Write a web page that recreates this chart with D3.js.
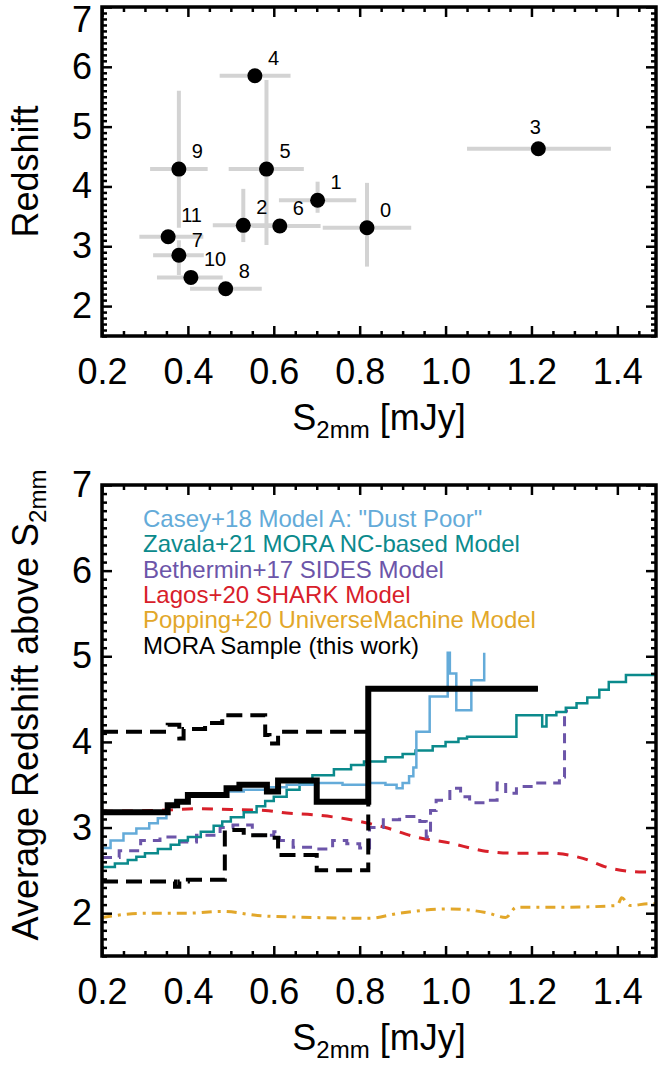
<!DOCTYPE html>
<html>
<head>
<meta charset="utf-8">
<script src="https://cdn.jsdelivr.net/npm/d3@7"></script>
<style>
  body { margin: 0; background: #fff; }
  text { font-family: "Liberation Sans", Arial, Helvetica, sans-serif; }
</style>
</head>
<body>
<div id="container"></div>
<script>
let w = 658;
let h = 1066;

// ---- top panel: MORA sources ----
let srcId   = [0, 1, 2, 3, 4, 5, 6, 7, 8, 9, 10, 11];
let srcS    = [0.817, 0.702, 0.529, 1.216, 0.556, 0.583, 0.614, 0.379, 0.488, 0.379, 0.407, 0.354];
let srcZ    = [3.31, 3.77, 3.35, 4.63, 5.85, 4.29, 3.34, 2.85, 2.29, 4.29, 2.48, 3.16];
let srcSlo  = [0.714, 0.612, 0.458, 1.05, 0.474, 0.495, 0.55, 0.319, 0.405, 0.312, 0.328, 0.287];
let srcShi  = [0.92, 0.792, 0.62, 1.385, 0.639, 0.670, 0.709, 0.437, 0.572, 0.446, 0.481, 0.436];
let srcZlo  = [2.66, 3.56, 3.07, null, null, 3.02, null, 2.52, null, 3.31, null, null];
let srcZhi  = [4.06, 4.08, 3.96, null, null, 5.78, null, 3.10, null, 5.60, null, null];

// ---- bottom panel: average redshift above S2mm ----
let caseyS = [0.2, 0.22, 0.25, 0.28, 0.31, 0.33, 0.35, 0.37, 0.40, 0.45, 0.49, 0.53, 0.58, 0.63, 0.70, 0.76, 0.82, 0.86, 0.886, 0.90, 0.915, 0.925, 0.932, 0.963, 1.005, 1.01, 1.025, 1.06, 1.09];
let caseyZ = [2.76, 2.85, 2.93, 2.99, 3.05, 3.11, 3.24, 3.30, 3.36, 3.40, 3.42, 3.44, 3.47, 3.50, 3.52, 3.50, 3.52, 3.50, 3.46, 3.52, 3.60, 3.70, 4.12, 4.53, 5.04, 4.80, 4.37, 4.72, 5.04];

let zavalaS = [0.20, 0.23, 0.26, 0.28, 0.30, 0.33, 0.36, 0.38, 0.40, 0.43, 0.46, 0.48, 0.50, 0.53, 0.56, 0.58, 0.60, 0.63, 0.66, 0.69, 0.74, 0.78, 0.81, 0.86, 0.90, 0.93, 0.97, 1.00, 1.03, 1.05, 1.165, 1.225, 1.235, 1.258, 1.28, 1.305, 1.33, 1.358, 1.38, 1.42, 1.49];
let zavalaZ = [2.54, 2.58, 2.62, 2.66, 2.70, 2.75, 2.80, 2.85, 2.89, 2.95, 3.02, 3.07, 3.12, 3.18, 3.25, 3.31, 3.36, 3.44, 3.52, 3.61, 3.68, 3.73, 3.77, 3.82, 3.86, 3.90, 3.95, 4.00, 4.04, 4.06, 4.31, 4.18, 4.31, 4.35, 4.40, 4.45, 4.52, 4.61, 4.70, 4.78, 4.78];

let bethS = [0.2, 0.24, 0.29, 0.335, 0.37, 0.42, 0.475, 0.505, 0.55, 0.60, 0.613, 0.645, 0.69, 0.737, 0.77, 0.80, 0.823, 0.855, 0.893, 0.94, 0.955, 0.965, 0.978, 1.01, 1.035, 1.056, 1.095, 1.12, 1.14, 1.165, 1.21, 1.265, 1.277, 1.285];
let bethZ = [2.65, 2.73, 2.85, 2.89, 2.83, 2.91, 3.00, 3.03, 2.91, 2.95, 2.85, 2.77, 2.75, 2.85, 2.81, 2.76, 3.00, 3.09, 3.13, 3.07, 2.89, 3.20, 3.32, 3.46, 3.36, 3.29, 3.32, 3.52, 3.40, 3.48, 3.52, 3.59, 4.36, 4.36];

let lagosS = [0.2, 0.33, 0.42, 0.50, 0.58, 0.63, 0.69, 0.77, 0.82, 0.86, 0.93, 1.01, 1.086, 1.165, 1.242, 1.32, 1.38, 1.46, 1.49];
let lagosZ = [3.19, 3.20, 3.22, 3.21, 3.20, 3.17, 3.15, 3.10, 3.05, 3.00, 2.89, 2.82, 2.73, 2.70, 2.70, 2.64, 2.53, 2.48, 2.48];

let poppingS = [0.2, 0.30, 0.40, 0.48, 0.57, 0.69, 0.82, 0.893, 1.01, 1.10, 1.14, 1.165, 1.28, 1.40, 1.41, 1.43, 1.475, 1.49];
let poppingZ = [1.95, 2.00, 2.00, 2.02, 1.97, 1.95, 1.94, 2.00, 2.05, 2.00, 1.95, 2.07, 2.07, 2.09, 2.18, 2.09, 2.11, 2.11];

let moraS = [0.2, 0.353, 0.375, 0.40, 0.49, 0.52, 0.584, 0.61, 0.70, 0.82, 1.215];
let moraZ = [3.18, 3.26, 3.30, 3.38, 3.46, 3.50, 3.42, 3.55, 3.30, 4.62, 4.62];
let moraUpS = [0.2, 0.353, 0.38, 0.39, 0.44, 0.48, 0.58, 0.59, 0.61, 0.82, 1.215];
let moraUpZ = [4.12, 4.20, 4.04, 4.15, 4.22, 4.31, 4.08, 3.98, 4.12, 4.62, 4.62];
let moraLoS = [0.2, 0.37, 0.38, 0.40, 0.486, 0.53, 0.58, 0.61, 0.70, 0.82, 1.215];
let moraLoZ = [2.37, 2.31, 2.37, 2.39, 2.97, 2.91, 2.88, 2.68, 2.50, 4.62, 4.62];

let legendLabels = ['Casey+18 Model A: "Dust Poor"', "Zavala+21 MORA NC-based Model", "Bethermin+17 SIDES Model", "Lagos+20 SHARK Model", "Popping+20 UniverseMachine Model", "MORA Sample (this work)"];
let legendColors = ["#64abd9", "#0b8a8c", "#6c55a9", "#d8202a", "#e2a72a", "#000000"];

let xMajor = [0.2, 0.4, 0.6, 0.8, 1.0, 1.2, 1.4];
let yMajor = [2, 3, 4, 5, 6, 7];

let svg = d3.select("#container").append("svg")
  .attr("width", w)
  .attr("height", h);

let x1 = d3.scaleLinear().domain([0.2, 1.49]).range([102, 656]);
let y1 = d3.scaleLinear().domain([1.5, 7]).range([336, 7]);
let x2 = d3.scaleLinear().domain([0.2, 1.49]).range([102, 656]);
let y2 = d3.scaleLinear().domain([1.5, 7]).range([956, 485]);

let xMinor = d3.range(0.2, 1.491, 0.05).map(v => +v.toFixed(2)).filter(v => xMajor.indexOf(v) < 0);
let yMinor = d3.range(1.5, 7.01, 0.1).map(v => +v.toFixed(1)).filter(v => yMajor.indexOf(v) < 0);

function drawAxes(g, x, y) {
  let xr = x.range(), yr = y.range();
  function style(sel) {
    sel.select(".domain").remove();
    sel.selectAll("line").attr("stroke", "#000").attr("stroke-width", 2.5);
    sel.attr("font-size", 36).attr("font-family", '"Liberation Sans", Arial, Helvetica, sans-serif');
    sel.selectAll("text").attr("fill", "#000");
  }
  g.append("g").attr("transform", "translate(0," + yr[0] + ")")
    .call(d3.axisBottom(x).tickValues(xMajor).tickSize(-10).tickPadding(22).tickFormat(d3.format(".1f"))).call(style);
  g.append("g").attr("transform", "translate(0," + yr[0] + ")")
    .call(d3.axisBottom(x).tickValues(xMinor).tickSize(-5).tickFormat("")).call(style);
  g.append("g").attr("transform", "translate(0," + yr[1] + ")")
    .call(d3.axisTop(x).tickValues(xMajor).tickSize(-10).tickFormat("")).call(style);
  g.append("g").attr("transform", "translate(0," + yr[1] + ")")
    .call(d3.axisTop(x).tickValues(xMinor).tickSize(-5).tickFormat("")).call(style);
  let yl = g.append("g").attr("transform", "translate(" + xr[0] + ",0)")
    .call(d3.axisLeft(y).tickValues(yMajor).tickSize(-10).tickPadding(10).tickFormat(d3.format("d"))).call(style);
  // keep the top label inside the page
  if (y(7) < 20) yl.selectAll("text").filter(d => d == 7).attr("y", 13);
  g.append("g").attr("transform", "translate(" + xr[0] + ",0)")
    .call(d3.axisLeft(y).tickValues(yMinor).tickSize(-5).tickFormat("")).call(style);
  g.append("g").attr("transform", "translate(" + xr[1] + ",0)")
    .call(d3.axisRight(y).tickValues(yMajor).tickSize(-10).tickFormat("")).call(style);
  g.append("g").attr("transform", "translate(" + xr[1] + ",0)")
    .call(d3.axisRight(y).tickValues(yMinor).tickSize(-5).tickFormat("")).call(style);
  g.append("rect")
    .attr("x", xr[0]).attr("y", yr[1])
    .attr("width", xr[1] - xr[0]).attr("height", yr[0] - yr[1])
    .attr("fill", "none").attr("stroke", "#000").attr("stroke-width", 3.5);

  // x title with subscript
  let t = g.append("text")
    .attr("x", (xr[0] + xr[1]) / 2).attr("y", yr[0] + 94)
    .attr("text-anchor", "middle").attr("font-size", 36);
  t.append("tspan").text("S");
  t.append("tspan").attr("font-size", 24).attr("dy", 8).text("2mm");
  t.append("tspan").attr("dy", -8).text(" [mJy]");
}

// ---- top panel ----
let topPanel = svg.append("g").attr("class", "toppanel");

let sources = srcId.map(function (id, i) {
  return { id: id, s: srcS[i], z: srcZ[i], slo: srcSlo[i], shi: srcShi[i], zlo: srcZlo[i], zhi: srcZhi[i] };
});

let errs = topPanel.append("g").attr("class", "errors");
errs.selectAll(".xerr").data(sources).enter().append("line")
  .attr("x1", d => x1(d.slo)).attr("x2", d => x1(d.shi))
  .attr("y1", d => y1(d.z)).attr("y2", d => y1(d.z))
  .attr("stroke", "#d3d3d3").attr("stroke-width", 4);
errs.selectAll(".yerr").data(sources.filter(d => d.zlo != null)).enter().append("line")
  .attr("x1", d => x1(d.s)).attr("x2", d => x1(d.s))
  .attr("y1", d => y1(d.zlo)).attr("y2", d => y1(d.zhi))
  .attr("stroke", "#d3d3d3").attr("stroke-width", 4);

let pts = topPanel.selectAll(".datagroup").data(sources).enter()
  .append("g")
  .attr("class", "datagroup")
  .attr("transform", d => "translate(" + x1(d.s) + "," + y1(d.z) + ")");
pts.append("circle").attr("r", 7.5).attr("fill", "#000");
pts.append("text")
  .attr("x", d => d.id == 3 ? -3 : 13)
  .attr("y", d => d.id == 3 ? -15 : (d.id == 7 ? -8 : (d.id == 11 ? -15 : -11)))
  .attr("text-anchor", d => d.id == 3 ? "middle" : "start")
  .attr("font-size", 20)
  .text(d => d.id);

drawAxes(topPanel, x1, y1);

topPanel.append("text")
  .attr("transform", "translate(38," + ((y1.range()[0] + y1.range()[1]) / 2) + ") rotate(-90)")
  .attr("text-anchor", "middle").attr("font-size", 36)
  .text("Redshift");

// ---- bottom panel ----
let botPanel = svg.append("g").attr("class", "botpanel");

svg.append("defs").append("clipPath").attr("id", "clipB")
  .append("rect").attr("x", 102).attr("y", 485).attr("width", 554).attr("height", 471);

let lineB = d3.line().x(d => x2(d[0])).y(d => y2(d[1])).curve(d3.curveStepAfter);
let smoothB = d3.line().x(d => x2(d[0])).y(d => y2(d[1])).curve(d3.curveMonotoneX);
let zip = (a, b) => a.map((v, i) => [v, b[i]]);

let lines = botPanel.append("g").attr("clip-path", "url(#clipB)");

lines.append("path").datum(zip(poppingS, poppingZ))
  .attr("d", smoothB).attr("fill", "none")
  .attr("stroke", legendColors[4]).attr("stroke-width", 3).attr("stroke-dasharray", "10,6,3,6");
lines.append("path").datum(zip(lagosS, lagosZ))
  .attr("d", smoothB).attr("fill", "none")
  .attr("stroke", legendColors[3]).attr("stroke-width", 3).attr("stroke-dasharray", "11,9");
lines.append("path").datum(zip(bethS, bethZ))
  .attr("d", lineB).attr("fill", "none")
  .attr("stroke", legendColors[2]).attr("stroke-width", 3).attr("stroke-dasharray", "10,7");
lines.append("path").datum(zip(moraUpS, moraUpZ))
  .attr("d", lineB).attr("fill", "none")
  .attr("stroke", "#000").attr("stroke-width", 4).attr("stroke-dasharray", "16,8");
lines.append("path").datum(zip(moraLoS, moraLoZ))
  .attr("d", lineB).attr("fill", "none")
  .attr("stroke", "#000").attr("stroke-width", 4).attr("stroke-dasharray", "16,8");
lines.append("path").datum(zip(zavalaS, zavalaZ))
  .attr("d", lineB).attr("fill", "none")
  .attr("stroke", legendColors[1]).attr("stroke-width", 2.5);
lines.append("path").datum(zip(caseyS, caseyZ))
  .attr("d", lineB).attr("fill", "none")
  .attr("stroke", legendColors[0]).attr("stroke-width", 2.5);
lines.append("path").datum(zip(moraS, moraZ))
  .attr("d", lineB).attr("fill", "none")
  .attr("stroke", "#000").attr("stroke-width", 6);

drawAxes(botPanel, x2, y2);

let yt = botPanel.append("text")
  .attr("transform", "translate(38,705) rotate(-90)")
  .attr("text-anchor", "middle").attr("font-size", 36);
yt.append("tspan").text("Average Redshift above S");
yt.append("tspan").attr("font-size", 24).attr("dy", 8).text("2mm");

let legend = botPanel.append("g").attr("class", "legend");
legend.selectAll("text").data(legendLabels).enter().append("text")
  .attr("x", 143)
  .attr("y", (d, i) => 527 + i * 25.3)
  .attr("font-size", 24)
  .attr("fill", (d, i) => legendColors[i])
  .text(d => d);
</script>
</body>
</html>
